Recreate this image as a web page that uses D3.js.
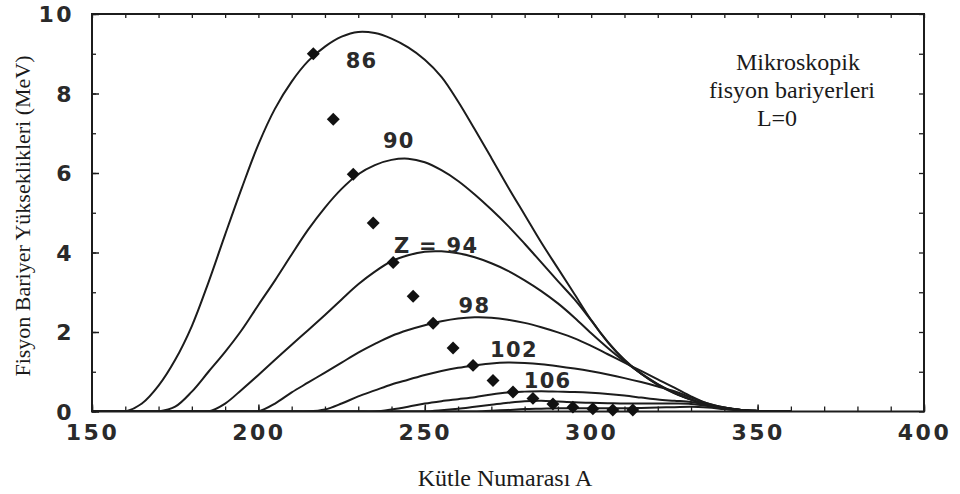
<!DOCTYPE html>
<html>
<head>
<meta charset="utf-8">
<script src="https://cdn.jsdelivr.net/npm/d3@7/dist/d3.min.js"></script>
<style>
  html, body { margin: 0; padding: 0; background: #fff; }
  svg { display: block; }
</style>
</head>
<body>
<svg id="chart" width="960" height="494"></svg>
<script>
// ---------- data ----------
const massNumbers = [150,155,160,165,170,175,180,185,190,195,200,205,210,215,220,225,230,235,240,245,250,255,260,265,270,275,280,285,290,295,300,305,310,315,320,325,330,335,340,345,350,355,360];

const barrierZ86  = [0,0,0,0.2,0.65,1.3,2.15,3.25,4.45,5.62,6.72,7.62,8.3,8.82,9.18,9.43,9.55,9.52,9.38,9.16,8.85,8.42,7.8,7.1,6.38,5.65,4.95,4.25,3.6,2.95,2.3,1.75,1.3,0.95,0.68,0.47,0.3,0.17,0.09,0.04,0.015,0,0];
const barrierZ90  = [0,0,0,0,0,0.12,0.5,1.0,1.5,2.05,2.68,3.3,3.95,4.58,5.13,5.6,5.97,6.2,6.33,6.36,6.27,6.07,5.8,5.46,5.08,4.67,4.22,3.75,3.28,2.82,2.29,1.74,1.29,0.95,0.67,0.46,0.3,0.17,0.09,0.04,0.015,0,0];
const barrierZ94  = [0,0,0,0,0,0,0,0,0.2,0.55,0.92,1.3,1.68,2.05,2.43,2.82,3.2,3.52,3.78,3.93,4.02,4.03,3.98,3.88,3.73,3.54,3.3,3.03,2.72,2.36,1.97,1.6,1.26,0.96,0.69,0.47,0.3,0.17,0.09,0.04,0.015,0,0];
const barrierZ98  = [0,0,0,0,0,0,0,0,0,0,0,0.2,0.48,0.73,0.98,1.23,1.48,1.7,1.9,2.05,2.17,2.27,2.34,2.37,2.36,2.31,2.23,2.12,1.99,1.84,1.65,1.44,1.23,1.02,0.81,0.6,0.38,0.2,0.1,0.04,0.015,0,0];
const barrierZ102 = [0,0,0,0,0,0,0,0,0,0,0,0,0,0,0.05,0.2,0.38,0.53,0.68,0.8,0.92,1.02,1.1,1.16,1.21,1.23,1.22,1.19,1.14,1.08,1.01,0.93,0.84,0.74,0.63,0.51,0.35,0.2,0.1,0.04,0.015,0,0];
const barrierZ106 = [0,0,0,0,0,0,0,0,0,0,0,0,0,0,0,0,0,0,0.05,0.12,0.2,0.26,0.31,0.36,0.43,0.48,0.5,0.51,0.5,0.49,0.47,0.44,0.4,0.35,0.3,0.27,0.24,0.16,0.08,0.035,0.012,0,0];
const barrierZ110 = [0,0,0,0,0,0,0,0,0,0,0,0,0,0,0,0,0,0,0,0,0,0.03,0.07,0.12,0.17,0.22,0.26,0.27,0.25,0.23,0.22,0.21,0.2,0.2,0.2,0.2,0.19,0.14,0.07,0.03,0.01,0,0];
const barrierZ114 = [0,0,0,0,0,0,0,0,0,0,0,0,0,0,0,0,0,0,0,0,0,0,0,0,0.02,0.04,0.06,0.07,0.08,0.08,0.08,0.08,0.08,0.09,0.1,0.11,0.12,0.1,0.06,0.025,0.01,0,0];

const curveLabels = ["86","90","Z = 94","98","102","106"];
const curveLabelA = [231, 242.2, 253.4, 264.9, 276.8, 286.9];
const curveLabelB = [8.84, 6.83, 4.19, 2.68, 1.56, 0.79];

const pointA = [216.5,222.5,228.5,234.5,240.5,246.5,252.5,258.5,264.5,270.5,276.5,282.5,288.5,294.5,300.5,306.5,312.5];
const pointB = [9.0,7.35,5.97,4.74,3.75,2.9,2.22,1.6,1.16,0.78,0.49,0.33,0.19,0.11,0.07,0.04,0.04];

const xMajorTicks = [150,200,250,300,350,400];
const yMajorTicks = [0,2,4,6,8,10];
const xTitle = "Kütle Numarası A";
const yTitle = "Fisyon Bariyer Yükseklikleri (MeV)";
const noteLines = ["Mikroskopik", "fisyon bariyerleri", "L=0"];

// ---------- layout ----------
const svg = d3.select("#chart");
const mLeft = 92, mRight = 924, mTop = 14, mBottom = 411.5;
const x = d3.scaleLinear().domain([150, 400]).range([mLeft, mRight]);
const y = d3.scaleLinear().domain([0, 10]).range([mBottom, mTop]);
const ink = "#1c1c1c";

svg.append("defs").append("clipPath").attr("id", "plotclip")
  .append("rect").attr("x", mLeft).attr("y", mTop - 2).attr("width", mRight - mLeft).attr("height", mBottom - mTop + 2);

// minor ticks
const xMinor = d3.range(150, 401, 10);
const yMinor = d3.range(0, 11, 1);
svg.append("g").attr("transform", `translate(0,${mBottom})`)
  .call(d3.axisBottom(x).tickValues(xMinor).tickSize(-5).tickFormat(""))
  .call(g => g.select(".domain").remove())
  .call(g => g.selectAll("line").attr("stroke", ink).attr("stroke-width", 1.3));
svg.append("g").attr("transform", `translate(0,${mTop})`)
  .call(d3.axisTop(x).tickValues(xMinor).tickSize(-4).tickFormat(""))
  .call(g => g.select(".domain").remove())
  .call(g => g.selectAll("line").attr("stroke", ink).attr("stroke-width", 1.3));
svg.append("g").attr("transform", `translate(${mLeft},0)`)
  .call(d3.axisLeft(y).tickValues(yMinor).tickSize(-4).tickFormat(""))
  .call(g => g.select(".domain").remove())
  .call(g => g.selectAll("line").attr("stroke", ink).attr("stroke-width", 1.3));
svg.append("g").attr("transform", `translate(${mRight},0)`)
  .call(d3.axisRight(y).tickValues(yMinor).tickSize(-5).tickFormat(""))
  .call(g => g.select(".domain").remove())
  .call(g => g.selectAll("line").attr("stroke", ink).attr("stroke-width", 1.3));

// major ticks + labels
const tickFont = "'DejaVu Sans', sans-serif";
svg.append("g").attr("transform", `translate(0,${mBottom})`)
  .call(d3.axisBottom(x).tickValues(xMajorTicks).tickSize(-7).tickPadding(0).tickFormat(d3.format("d")))
  .call(g => g.select(".domain").remove())
  .call(g => g.selectAll("line").attr("stroke", ink).attr("stroke-width", 1.5))
  .call(g => g.selectAll("text")
      .attr("y", 28).attr("dy", 0)
      .attr("fill", "#2a2a2a").attr("font-family", tickFont).attr("font-weight", "bold")
      .attr("font-size", 22).attr("letter-spacing", 2.5));
svg.append("g").attr("transform", `translate(${mLeft},0)`)
  .call(d3.axisLeft(y).tickValues(yMajorTicks).tickSize(-7).tickPadding(0).tickFormat(d3.format("d")))
  .call(g => g.select(".domain").remove())
  .call(g => g.selectAll("line").attr("stroke", ink).attr("stroke-width", 1.5))
  .call(g => g.selectAll("text")
      .attr("x", -18).attr("dy", "0.36em")
      .attr("fill", "#2a2a2a").attr("font-family", tickFont).attr("font-weight", "bold")
      .attr("font-size", 22).attr("letter-spacing", 2.5));

// curves
const seriesList = [barrierZ86, barrierZ90, barrierZ94, barrierZ98, barrierZ102, barrierZ106, barrierZ110, barrierZ114];
const line = d3.line()
  .x((d, i) => x(massNumbers[i]))
  .y(d => y(Math.max(0, d)))
  .curve(d3.curveCatmullRom.alpha(0.5));
svg.append("g").attr("clip-path", "url(#plotclip)")
  .selectAll("path").data(seriesList).join("path")
  .attr("d", line)
  .attr("fill", "none").attr("stroke", ink).attr("stroke-width", 2)
  .attr("stroke-linejoin", "round");

// frame
svg.append("rect")
  .attr("x", mLeft).attr("y", mTop).attr("width", mRight - mLeft).attr("height", mBottom - mTop)
  .attr("fill", "none").attr("stroke", ink).attr("stroke-width", 2);

// diamond points (squares rotated 45°)
svg.append("g").selectAll("path").data(pointA).join("path")
  .attr("transform", (d, i) => `translate(${x(d)},${y(pointB[i])}) rotate(45)`)
  .attr("d", d3.symbol().type(d3.symbolSquare).size(84))
  .attr("fill", "#111");

// curve labels
svg.append("g").selectAll("text").data(curveLabels).join("text")
  .attr("x", (d, i) => x(curveLabelA[i]))
  .attr("y", (d, i) => y(curveLabelB[i]))
  .attr("dy", "0.36em")
  .attr("text-anchor", "middle")
  .attr("font-family", tickFont).attr("font-weight", "bold")
  .attr("font-size", 21).attr("letter-spacing", 1.3)
  .attr("fill", "#2a2a2a")
  .text(d => d);

// annotation
const serif = "'Liberation Serif', Tinos, 'DejaVu Serif', 'Noto Serif', 'Times New Roman', serif";
const noteX = [798, 792, 777];
svg.append("g").selectAll("text").data(noteLines).join("text")
  .attr("x", (d, i) => noteX[i])
  .attr("y", (d, i) => 62 + i * 28)
  .attr("dy", "0.35em")
  .attr("text-anchor", "middle")
  .attr("font-family", serif).attr("font-size", 24)
  .attr("fill", "#1a1a1a")
  .text(d => d);

// axis titles
svg.append("text")
  .attr("x", 505).attr("y", 478).attr("dy", "0.35em")
  .attr("text-anchor", "middle")
  .attr("font-family", serif).attr("font-size", 24)
  .attr("fill", "#1a1a1a")
  .text(xTitle);
svg.append("text")
  .attr("transform", "translate(22,216) rotate(-90)")
  .attr("dy", "0.35em")
  .attr("text-anchor", "middle")
  .attr("font-family", serif).attr("font-size", 22)
  .attr("fill", "#1a1a1a")
  .text(yTitle);
</script>
</body>
</html>
